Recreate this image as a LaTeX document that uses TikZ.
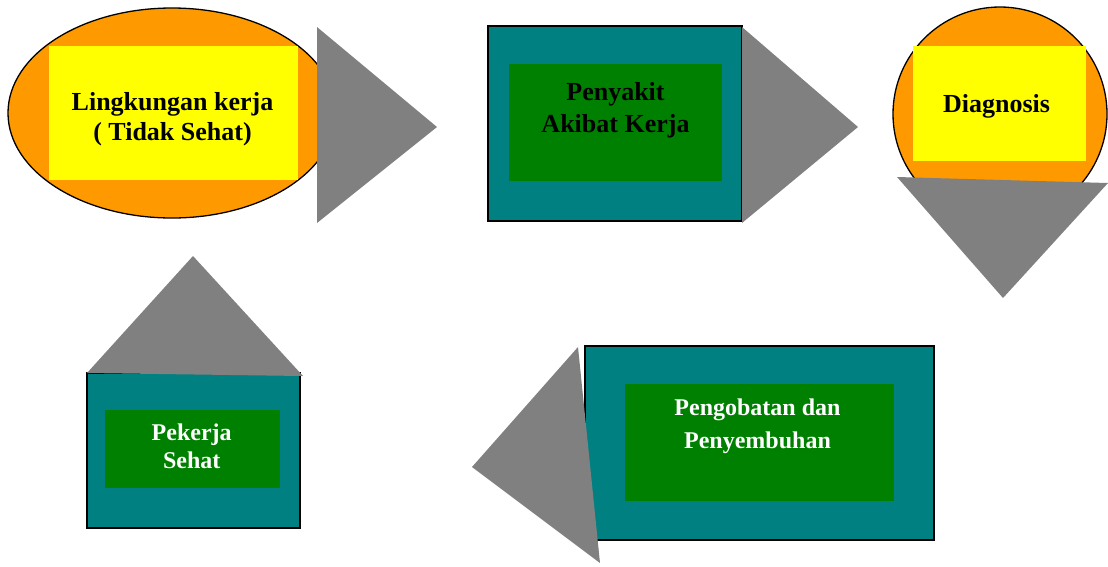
\documentclass[tikz,border=0pt]{standalone}
\usepackage{fontspec}
\setmainfont{Liberation Serif}
\usetikzlibrary{shapes.geometric}

\definecolor{ringorange}{RGB}{255,153,0}
\definecolor{boxyellow}{RGB}{255,255,0}
\definecolor{boxteal}{RGB}{0,128,128}
\definecolor{boxgreen}{RGB}{0,128,0}
\definecolor{arrowgray}{RGB}{128,128,128}

\tikzset{
  outer/.style={draw=black, line width=1.3pt, inner sep=0pt},
  inner/.style={draw=none, inner sep=0pt},
  bigtext/.style={inner sep=0pt, align=center, font=\fontsize{26}{30}\selectfont\bfseries},
  smalltext/.style={inner sep=0pt, align=center, text=white},
  arrowtri/.style={fill=arrowgray, draw=none},
}

\begin{document}
\begin{tikzpicture}[x=1pt, y=-1pt]
\useasboundingbox (0,0) rectangle (1108,566);

% --- unhealthy working environment ---
\node[outer, ellipse, fill=ringorange, minimum width=328pt, minimum height=210pt] (env) at (172,113) {};
\node[inner, fill=boxyellow, minimum width=249pt, minimum height=134pt] (envbox) at (173.5,113) {};
\node[bigtext] (envtext) at (172.5,119) {Lingkungan kerja\\( Tidak Sehat)};

% --- occupational disease ---
\node[outer, fill=boxteal, minimum width=254pt, minimum height=195pt] (dis) at (615,123.5) {};
\node[inner, fill=boxgreen, minimum width=213pt, minimum height=117pt] (disbox) at (615.5,122.5) {};
\node[bigtext, font=\fontsize{26}{32}\selectfont\bfseries] (distext) at (615.5,110) {Penyakit\\Akibat Kerja};

% --- diagnosis ---
\node[outer, circle, fill=ringorange, minimum size=214pt] (diag) at (1000,114) {};
\node[inner, fill=boxyellow, minimum width=173pt, minimum height=115pt] (diagbox) at (999.5,103.5) {};
\node[bigtext] (diagtext) at (996.5,106) {Diagnosis};

% --- treatment and recovery ---
\node[outer, fill=boxteal, minimum width=349pt, minimum height=194pt] (cure) at (759.5,443) {};
\node[inner, fill=boxgreen, minimum width=269pt, minimum height=117pt] (curebox) at (759.5,442.5) {};
\node[smalltext, font=\fontsize{24}{33}\selectfont\bfseries] (curetext) at (757.5,426) {Pengobatan dan\\Penyembuhan};

% --- healthy worker ---
\node[outer, fill=boxteal, minimum width=213pt, minimum height=155pt] (work) at (193.5,450.5) {};
\node[inner, fill=boxgreen, minimum width=175pt, minimum height=78pt] (workbox) at (192.5,449) {};
\node[smalltext, font=\fontsize{24}{27.5}\selectfont\bfseries] (worktext) at (191.7,446.5) {Pekerja\\Sehat};

% --- direction triangles ---
\fill[arrowtri] (317,27) -- (437,127) -- (317,223) -- cycle;
\fill[arrowtri] (742,27) -- (858,127) -- (742,223) -- cycle;
\fill[arrowtri] (897,177) -- (1108,183) -- (1003,298) -- cycle;
\fill[arrowtri] (578,347) -- (600,563) -- (472,467) -- cycle;
\fill[arrowtri] (87,373) -- (193,256) -- (303,376) -- cycle;
\end{tikzpicture}
\end{document}
